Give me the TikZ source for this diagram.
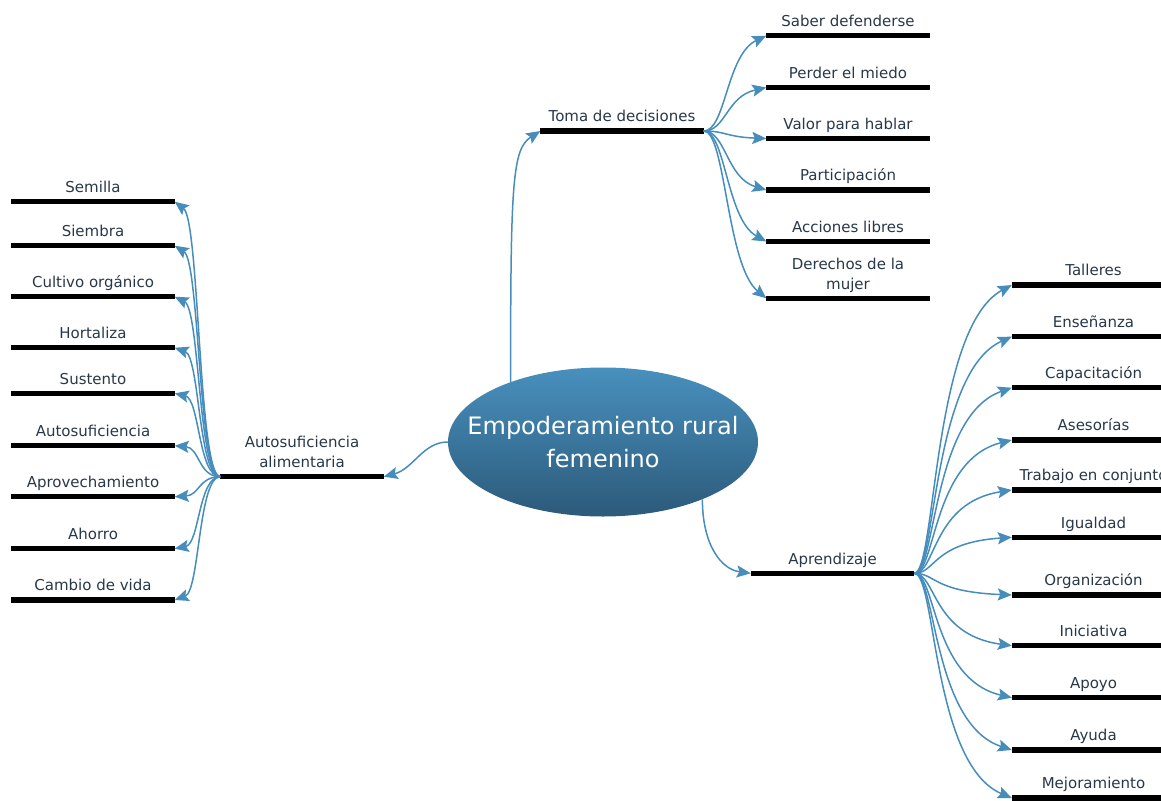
\documentclass[tikz,border=0pt]{standalone}
\usepackage{fontspec}
\setmainfont{DejaVu Sans}
\usetikzlibrary{arrows.meta,shapes.geometric}
\definecolor{txt}{RGB}{40,56,72}
\definecolor{conn}{RGB}{70,141,188}
\definecolor{ctop}{RGB}{72,144,190}
\definecolor{cbot}{RGB}{44,90,122}
\begin{document}
\begin{tikzpicture}[x=1pt,y=-1pt,
  topic/.style={anchor=south, minimum width=163pt, inner xsep=0pt, inner ysep=5pt,
    text depth=4pt, font=\fontsize{15}{20}\selectfont, text=txt, align=center},
  bar/.style={line width=5.5pt, black},
  link/.style={draw=conn, line width=1.5pt, -{Stealth[length=14pt,width=12pt,inset=2.5pt]}},
  hub/.style={ellipse, minimum width=310pt, minimum height=149pt, inner xsep=-40pt, inner ysep=0pt,
    top color=ctop, bottom color=cbot, text=white, align=center,
    font=\fontsize{24}{33}\selectfont}
]
\useasboundingbox (0,0) rectangle (1161,800);
\clip (0,0) rectangle (1161,800);

% central node
\node[hub] (center) at (603,442) {Empoderamiento rural\\femenino};

% main branches
\node[topic] (toma) at (622,131) {Toma de decisiones};
\node[topic] (apr) at (832.5,573.3) {Aprendizaje};
\node[topic] (aut) at (302,476.7) {Autosuficiencia\\alimentaria};

% Toma de decisiones children
\node[topic] (t1) at (848,35.7) {Saber defenderse};
\node[topic] (t2) at (848,87.5) {Perder el miedo};
\node[topic] (t3) at (848,138.5) {Valor para hablar};
\node[topic] (t4) at (848,190) {Participación};
\node[topic] (t5) at (848,241.5) {Acciones libres};
\node[topic] (t6) at (848,298.3) {Derechos de la\\mujer};

% Autosuficiencia children
\node[topic] (a1) at (93,201.7) {Semilla};
\node[topic] (a2) at (93,245.7) {Siembra};
\node[topic] (a3) at (93,296.7) {Cultivo orgánico};
\node[topic] (a4) at (93,347.7) {Hortaliza};
\node[topic] (a5) at (93,393.3) {Sustento};
\node[topic] (a6) at (93,445.7) {Autosuficiencia};
\node[topic] (a7) at (93,496.7) {Aprovechamiento};
\node[topic] (a8) at (93,548.7) {Ahorro};
\node[topic] (a9) at (93,600) {Cambio de vida};

% Aprendizaje children
\node[topic] (p1) at (1093.5,285) {Talleres};
\node[topic] (p2) at (1093.5,336.7) {Enseñanza};
\node[topic] (p3) at (1093.5,387.7) {Capacitación};
\node[topic] (p4) at (1093.5,440) {Asesorías};
\node[topic] (p5) at (1093.5,490) {Trabajo en conjunto};
\node[topic] (p6) at (1093.5,537.3) {Igualdad};
\node[topic] (p7) at (1093.5,595) {Organización};
\node[topic] (p8) at (1093.5,645.7) {Iniciativa};
\node[topic] (p9) at (1093.5,697.7) {Apoyo};
\node[topic] (p10) at (1093.5,750) {Ayuda};
\node[topic] (p11) at (1093.5,798) {Mejoramiento};

% underlines
\foreach \n in {toma,apr,aut,t1,t2,t3,t4,t5,t6,a1,a2,a3,a4,a5,a6,a7,a8,a9,
                p1,p2,p3,p4,p5,p6,p7,p8,p9,p10,p11}
  \draw[bar] (\n.south west) -- (\n.south east);

% main connectors
\draw[link] (center.147) .. controls +(0,-200) and +(-28,18) .. (toma.south west);
\draw[link] (center.-30) .. controls +(0,45) and +(-30,-4) .. (apr.south west);
\draw[link] (center.west) .. controls +(-25,0) and +(30,-8) .. (aut.south east);

% Toma children connectors
\foreach \n/\k in {t1/19, t2/9, t3/-1.5, t4/-12, t5/-22, t6/-33}
  \draw[link] (toma.south east) .. controls +(22,0) and +(-40,\k) .. (\n.south west);

% Autosuficiencia children connectors
\foreach \n/\k in {a1/19, a2/16, a3/12.5, a4/9, a5/6, a6/2, a7/-1.5, a8/-5, a9/-9}
  \draw[link] (aut.south west) .. controls +(-22,0) and +(25,\k) .. (\n.south east);

% Aprendizaje children connectors
\foreach \n/\k in {p1/43, p2/35.5, p3/28, p4/20, p5/12.5, p6/5.4, p7/-3.3,
                   p8/-10.9, p9/-18.7, p10/-26.5, p11/-33.7}
  \draw[link] (apr.south east) .. controls +(22,0) and +(-80,\k) .. (\n.south west);
\end{tikzpicture}
\end{document}
